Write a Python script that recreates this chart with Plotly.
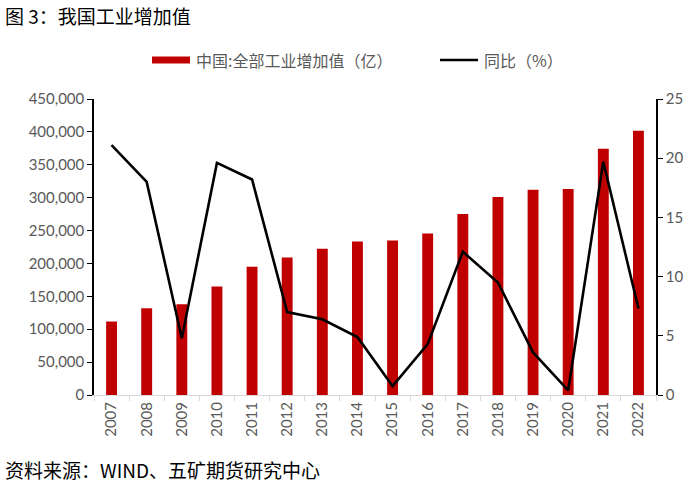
import plotly.graph_objects as go

years = ["2007", "2008", "2009", "2010", "2011", "2012", "2013", "2014",
         "2015", "2016", "2017", "2018", "2019", "2020", "2021", "2022"]
value_added = [111690, 131724, 138092, 165126, 195142, 208906, 222338, 233197,
               234969, 245406, 275119, 301089, 311859, 313071, 374546, 401644]
yoy_pct = [21.1, 18.0, 4.8, 19.6, 18.2, 7.0, 6.4, 4.9,
           0.75, 4.3, 12.1, 9.5, 3.6, 0.4, 19.7, 7.3]

left_ticks = [0, 50000, 100000, 150000, 200000, 250000, 300000, 350000, 400000, 450000]
left_labels = [f"{v:,}" for v in left_ticks]
right_ticks = [0, 5, 10, 15, 20, 25]

bar_name = "中国:全部工业增加值（亿）"
line_name = "同比（%）"
title_text = "图 3：我国工业增加值"
source_text = "资料来源：WIND、五矿期货研究中心"

num_font = "Lato, Carlito, 'Liberation Sans', sans-serif"
cjk_font = "'Noto Sans CJK SC', sans-serif"
gray = "#595959"
red = "#C00000"

# page-pixel -> paper coordinate helpers (plot area: x 94..656, y 99..395 on page)
def px(x):
    return (x - 94) / 562

def py(y):
    return (395 - y) / 296

fig = go.Figure()
fig.add_trace(go.Bar(
    x=years, y=value_added, name=bar_name,
    marker=dict(color=red, line=dict(width=0)),
    yaxis="y", showlegend=False,
))
fig.add_trace(go.Scatter(
    x=years, y=yoy_pct, name=line_name, mode="lines",
    line=dict(color="#000000", width=2.6),
    yaxis="y2", showlegend=False,
))

fig.update_layout(
    width=700, height=489,
    paper_bgcolor="white", plot_bgcolor="white",
    margin=dict(l=94, r=44, t=99, b=94),
    bargap=0.69,
    xaxis=dict(
        type="category", tickangle=-90,
        tickfont=dict(family=num_font, size=15, color=gray),
        showline=True, linecolor="#D9D9D9", linewidth=1,
        ticks="outside", ticklen=5, tickcolor="#D9D9D9",
        tickson="boundaries", showgrid=False,
    ),
    yaxis=dict(
        range=[0, 450000], tickvals=left_ticks, ticktext=left_labels,
        tickfont=dict(family=num_font, size=15, color=gray),
        showline=True, linecolor="#000000", linewidth=1.5,
        ticks="outside", ticklen=5, tickcolor="#000000",
        showgrid=False, zeroline=False,
    ),
    yaxis2=dict(
        range=[0, 25], tickvals=right_ticks, overlaying="y", side="right",
        tickfont=dict(family=num_font, size=15, color=gray),
        showline=True, linecolor="#000000", linewidth=1.5,
        ticks="outside", ticklen=5, tickcolor="#000000",
        showgrid=False, zeroline=False,
    ),
    shapes=[
        dict(type="rect", xref="paper", yref="paper",
             x0=px(152), x1=px(190), y0=py(63.5), y1=py(56.5),
             fillcolor=red, line=dict(width=0)),
        dict(type="line", xref="paper", yref="paper",
             x0=px(440), x1=px(478), y0=py(60), y1=py(60),
             line=dict(color="#000000", width=2.6)),
    ],
    annotations=[
        dict(text=bar_name, xref="paper", yref="paper",
             x=px(194), y=py(60), xanchor="left", yanchor="middle",
             showarrow=False, font=dict(family=cjk_font, size=16, color=gray)),
        dict(text=line_name, xref="paper", yref="paper",
             x=px(482), y=py(60), xanchor="left", yanchor="middle",
             showarrow=False, font=dict(family=cjk_font, size=16, color=gray)),
        dict(text=title_text, xref="paper", yref="paper",
             x=px(3), y=py(15), xanchor="left", yanchor="middle",
             showarrow=False, font=dict(family=cjk_font, size=19, color="#000000")),
        dict(text=source_text, xref="paper", yref="paper",
             x=px(3), y=py(469), xanchor="left", yanchor="middle",
             showarrow=False, font=dict(family=cjk_font, size=19, color="#000000")),
    ],
)

fig.write_html("out.html",
               config={"displayModeBar": False},
               post_script="document.body.style.margin='0';document.body.style.overflow='hidden';")
